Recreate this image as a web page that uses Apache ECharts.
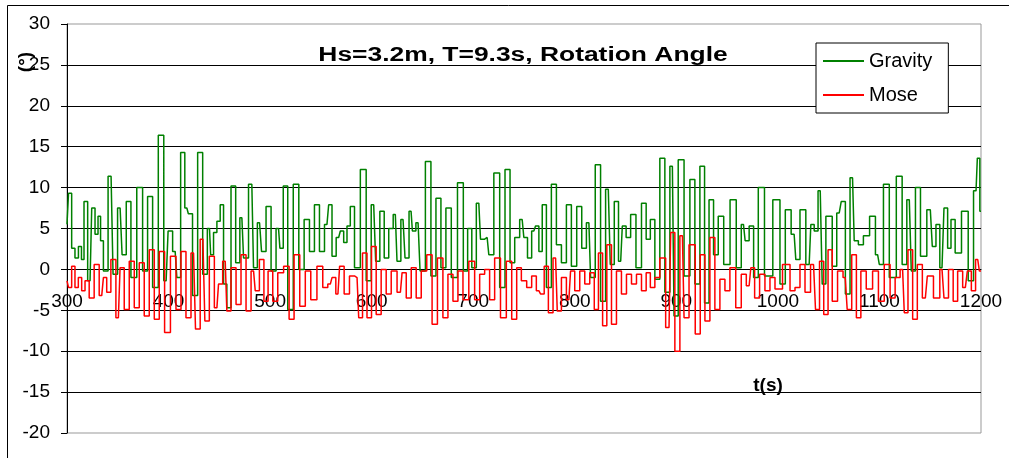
<!DOCTYPE html>
<html>
<head>
<meta charset="utf-8">
<script src="https://cdn.jsdelivr.net/npm/echarts@6/dist/echarts.min.js"></script>
<style>
html, body { margin: 0; padding: 0; background: #fff; }
#chart { width: 1009px; height: 458px; }
</style>
</head>
<body>
<div id="chart"></div>
<script>
// axis ranges
var xMin = 300, xMax = 1200, xStep = 100;
var yMin = -20, yMax = 30, yStep = 5;
var seriesNames = ['Gravity', 'Mose'];

// [t (s), angle (deg)], peaks and troughs
var gravityData = [
    [300, 5.5], [303, 9.3], [306.2, 2.6], [309.5, 1.4], [313, 2.8], [315.5, 1.2], [318, 8.3], [322.7, -1.4],
    [326, 7.5], [329.2, 4.3], [331.9, 6.5], [334.2, 3.5], [337.5, -0.2], [343.4, 11.4], [347.3, -0.6], [352.3, 7.5],
    [356.2, 1.8], [360.5, 8.3], [365.4, -1], [372, 10], [376.9, -0.2], [381.8, 8.9], [386.8, -2.2], [393, 16.4],
    [397.6, -1.4], [401.5, 4.7], [406.5, 2.2], [409.8, -1], [414, 14.3], [418, 7.5], [421, 6.8], [426.2, -3.2],
    [431.1, 14.3], [436.1, -0.6], [440.3, 5], [442.6, 1.8], [446, 4.5], [449.2, 5.9], [452.5, 7.9], [455.8, -1.8],
    [459, -4.7], [464, 10.2], [468.2, 0.8], [472.2, 6.3], [475.5, 1.4], [482, 10.4], [485.3, 0.2], [489.6, 5.7],
    [493.5, 2.2], [498.5, 7.7], [503.4, -0.2], [508.3, 5], [511, 2.6], [514.9, 10.2], [519.8, -4.9], [525.8, 10.4],
    [530.7, 0], [536.3, 6.1], [541.2, 2.2], [546.1, 7.9], [551.1, 2.2], [556, 5.5], [559.3, 7.9], [562.6, 1.6],
    [567.5, 3.9], [570.8, 4.7], [574.1, 3.3], [577.3, 5.3], [580.6, 7.7], [585.6, 0.2], [592.1, 12.2], [597.1, -1.4],
    [602, 7.9], [605.9, 1], [610.2, 7.1], [614.5, 1.4], [619.1, 5], [623.3, 6.7], [626.6, 1], [630.9, 6.1],
    [634.8, 1.4], [638.8, 7.1], [641.4, 4.7], [645.7, 5.7], [649.6, -0.2], [656.2, 13.2], [660.5, -0.8], [666.1, 8.7],
    [670.3, 0.2], [675.9, 7.5], [680.9, -1], [688.1, 10.6], [692.4, -0.2], [696.6, 5], [700.6, 0.2], [705.5, 8.1],
    [708.8, 3.7], [713.7, 3.9], [717, 1.8], [723.6, 11.8], [728.5, -2.2], [734.1, 12.2], [738.4, 0.8], [743.3, 3.9],
    [748.2, 6.1], [751.5, 3.9], [755.4, 1.4], [759.7, 4.7], [763, 5.3], [766.3, 2.2], [769.6, 7.9], [774.5, -2.2],
    [779.4, 10.4], [784.4, 3], [789.3, 0.8], [794.2, 7.9], [799.1, 0.4], [804.7, 7.7], [809, 2.6], [813.9, 5.7],
    [817.2, -1], [823.1, 12.8], [827.7, -3.9], [833, 9.8], [836.9, 0.6], [840.9, 8.3], [845.2, 1], [848.4, 5.3],
    [852.7, 3.9], [857.3, 6.7], [863.2, 0.2], [868.2, 8.1], [872.4, 3.7], [876.4, 6.1], [881.3, -1.2], [886.2, 13.6],
    [891.2, -2.8], [896.1, 12.6], [899.4, -5.7], [904.3, 13.4], [910.9, -0.8], [915.8, 11], [920.7, -1.8], [925.7, 12.6],
    [929.9, -4.1], [934.5, 8.5], [938.8, 1.8], [943.7, 6.5], [949.6, 0.6], [956.2, 8.5], [961.8, 0.2], [966.1, 5.5],
    [969.4, 3.5], [974, 5.3], [978.2, -1], [983.2, 10], [990.4, -0.8], [999.6, 8.5], [1004.5, -1.8], [1010.1, 7.3],
    [1016, 4.3], [1019.3, 1.2], [1024.2, 7.3], [1030.8, 0.6], [1034.1, 5.5], [1037.4, 4.7], [1041.7, 9.6], [1045.6, -1.8],
    [1048.9, 6.5], [1051.5, 6.5], [1055.5, 0.4], [1060.4, 6.9], [1064.3, 8.3], [1068.6, -3], [1073.5, 11.2], [1076.8, 3.5],
    [1081.7, 3], [1086.7, 4.1], [1093.9, 6.5], [1098.2, 1.8], [1101.5, 0.6], [1106.4, 10.4], [1113, -1], [1120.2, 11.4],
    [1124.5, 0.6], [1129.4, 8.5], [1133.3, -0.2], [1137.6, 10], [1143.2, 1.6], [1150.1, 7.3], [1154, 2.8], [1157.3, 5.5],
    [1161.6, 0.2], [1165.5, 7.5], [1168.8, 2.6], [1172.1, 6.1], [1177, 2], [1184.6, 7.1], [1190.2, -1.4], [1195.1, 9.6],
    [1197.7, 13.6], [1200, 7.1]
];

var moseData = [
    [300, -1.4], [303, -2.2], [306.2, 0.4], [309.5, -2.2], [312.8, -1], [316.1, -2.6], [319.4, -1.4], [324.3, -3.5],
    [329.2, 0.6], [334.2, -3.2], [337.5, -1], [340.7, -2.8], [345.7, 1.2], [350.6, -5.9], [353.9, 0.2], [358.8, -4.9],
    [363.8, 1], [368.7, -4.7], [373.6, 0.8], [378.5, -5.7], [383.5, 2.4], [388.4, -6.1], [393.3, 2.2], [398.9, -7.7],
    [404.8, 1.6], [409.8, -4.9], [414.7, 2.2], [419.6, -5.9], [424.6, 2], [428.5, -7.3], [433.8, 3.7], [437.7, -6.3],
    [442.6, 1.6], [447.6, -4.7], [450.8, -1.8], [455.8, 1], [459, -5.1], [464, 0.2], [468.9, -4.3], [473.8, 1.8],
    [478.8, -5.1], [483.7, -0.2], [487, -2.6], [491.9, 1.2], [495.9, -3.9], [500.1, -0.2], [505.1, -3.9], [510, -0.4],
    [516.6, 0.4], [520.8, -6.1], [526.4, 1.8], [532, -4.5], [537.3, -0.2], [542.8, -3.7], [549.4, 0.4], [554.3, -2.2],
    [559.3, -1.8], [562.6, -1], [566.8, -3], [570.1, 0.4], [575.7, -3], [580.6, -0.8], [585.6, -1], [588.9, -5.9],
    [593.1, 2], [597.7, -5.9], [602, 2.8], [606.9, -5.5], [611.8, 0], [616.8, -3], [621.7, -0.2], [628.3, -2.8],
    [631.6, -0.4], [636.5, -3.5], [641.4, 0.2], [646.3, -3.5], [651.3, -0.2], [657.2, 1.8], [661.8, -6.7], [667.7, 1.4],
    [672.6, -5.9], [677.6, -0.6], [682.5, -3.9], [687.4, -0.2], [692.4, -3.7], [698.9, 1], [703.9, -3.7], [708.8, -0.6],
    [713.7, 0], [718.6, -3.7], [723.6, 1.4], [730.1, -5.9], [735.1, 1], [740.7, -6.1], [744.9, 0.2], [749.9, -1.4],
    [755.4, -2.2], [759.7, -0.8], [764.6, -2.6], [767.9, -3], [771.9, 0.4], [776.1, -5.3], [781.1, 1.4], [784.4, -5.1],
    [789.3, -1], [794.2, -3.7], [797.5, -0.2], [802.4, -2.6], [807.4, -0.2], [812.3, -1.8], [817.2, -0.4], [821.2, -4.9],
    [825.4, 2], [829.4, -6.9], [833.7, 3], [838.6, -6.7], [843.5, -0.2], [848.4, -3], [853.4, -0.6], [858.3, -1.8],
    [863.2, -0.6], [868.2, -2.6], [872.4, -0.4], [876.4, -2.2], [881.3, -1], [886.2, 1.4], [892.8, -7.1], [896.1, 4.5],
    [901, -10], [906, 4.1], [909.2, -5.9], [915.8, 3], [921.4, -7.9], [925.7, 1.8], [930.6, -6.3], [935.5, 3.9],
    [940.4, -4.9], [945.4, -1.2], [950.3, -2.6], [955.2, 0.2], [961.8, -4.7], [966.1, -0.6], [971.7, -2], [975, 0.2],
    [979.2, -3.5], [984.8, -0.6], [989.7, -2.6], [994.7, -1], [999.6, -2.4], [1009.5, 0.6], [1014.4, -2.6], [1019.3, -2.2],
    [1024.2, 0.6], [1029.2, -2.8], [1035.1, 0.6], [1039, -4.9], [1043, 1], [1047.3, -5.5], [1051.5, 2.4], [1055.5, -3.9],
    [1062, -0.2], [1066.3, -1], [1070.2, -4.9], [1075.2, 1.8], [1079.4, -5.9], [1084, -0.2], [1090, -2.4], [1096.5, -0.2],
    [1101.5, -3.9], [1108, 0.6], [1113, -3.5], [1117.9, -1], [1122.8, 0], [1126.1, -5.3], [1130.1, 2.4], [1135.3, -6.1],
    [1139.3, 0.6], [1145.2, -3.5], [1149.1, -0.8], [1157.3, -3.5], [1161.6, 0], [1165.5, -3.5], [1170.5, 0], [1174.7, -3.9],
    [1179.3, -0.2], [1184.6, -2.2], [1188.5, -0.2], [1192.5, -2.6], [1196.8, 1.2], [1200, -0.2]
];

var FONT = "'Liberation Sans', Arial, sans-serif";
var GRID_H = 458 - 24 - 25;

var chart = echarts.init(document.getElementById('chart'));
var option = {
    animation: false,
    backgroundColor: '#fff',
    color: ['#008000', '#ff0000'],
    grid: {
        left: 67, right: 28, top: 24, bottom: 25,
        outerBoundsMode: 'none',
        containLabel: false,
        show: true,
        borderColor: '#999',
        borderWidth: 1
    },
    legend: {
        data: seriesNames,
        orient: 'vertical',
        left: 816,
        top: 43,
        padding: [8, 16, 8, 7],
        itemGap: 14,
        itemWidth: 41,
        itemHeight: 2,
        icon: 'rect',
        backgroundColor: '#fff',
        borderColor: '#000',
        borderWidth: 1,
        borderRadius: 0,
        textStyle: {
            fontFamily: FONT,
            fontSize: 20,
            color: '#000',
            lineHeight: 20
        }
    },
    xAxis: {
        type: 'value',
        min: xMin,
        max: xMax,
        interval: xStep,
        position: 'bottom',
        // x axis crosses the y axis at 0
        offset: -GRID_H * (0 - yMin) / (yMax - yMin),
        axisLine: { onZero: false, lineStyle: { color: '#000', width: 1 } },
        axisTick: { show: false },
        splitLine: { show: false },
        axisLabel: {
            margin: 23,
            fontFamily: FONT,
            fontSize: 19,
            color: '#000',
            showMinLabel: true,
            showMaxLabel: true,
            formatter: function (v) { return String(v); }
        }
    },
    yAxis: {
        type: 'value',
        min: yMin,
        max: yMax,
        interval: yStep,
        axisLine: { show: true, onZero: false, lineStyle: { color: '#000', width: 1 } },
        axisTick: { show: true, length: 6, lineStyle: { color: '#000' } },
        axisLabel: {
            margin: 17,
            fontFamily: FONT,
            fontSize: 19,
            color: '#000'
        },
        splitLine: {
            show: true,
            showMinLine: false,
            showMaxLine: false,
            lineStyle: { color: '#000', width: 1 }
        }
    },
    graphic: [
        {
            type: 'rect',
            silent: true,
            z: -10,
            shape: { x: 7.5, y: 5.5, width: 1100, height: 600 },
            style: { fill: 'none', stroke: '#000', lineWidth: 1 }
        },
        {
            type: 'text',
            x: 523,
            y: 55,
            scaleX: 1.32,
            style: {
                text: 'Hs=3.2m, T=9.3s, Rotation Angle',
                font: 'bold 20px ' + FONT,
                fill: '#000',
                textAlign: 'center',
                textVerticalAlign: 'middle'
            }
        },
        {
            type: 'text',
            x: 768,
            y: 386,
            style: {
                text: 't(s)',
                font: 'bold 19px ' + FONT,
                fill: '#000',
                textAlign: 'center',
                textVerticalAlign: 'middle'
            }
        },
        {
            type: 'text',
            x: 26,
            y: 62,
            rotation: Math.PI / 2,
            style: {
                text: '(°)',
                font: 'bold 19px ' + FONT,
                fill: '#000',
                textAlign: 'center',
                textVerticalAlign: 'middle'
            }
        }
    ],
    series: [
        {
            name: seriesNames[0],
            type: 'line',
            step: 'middle',
            data: gravityData,
            showSymbol: false,
            symbol: 'none',
            lineStyle: { width: 1.5, color: '#008000' },
            itemStyle: { color: '#008000' }
        },
        {
            name: seriesNames[1],
            type: 'line',
            step: 'middle',
            data: moseData,
            showSymbol: false,
            symbol: 'none',
            lineStyle: { width: 1.5, color: '#ff0000' },
            itemStyle: { color: '#ff0000' }
        }
    ]
};
chart.setOption(option);
</script>
</body>
</html>
